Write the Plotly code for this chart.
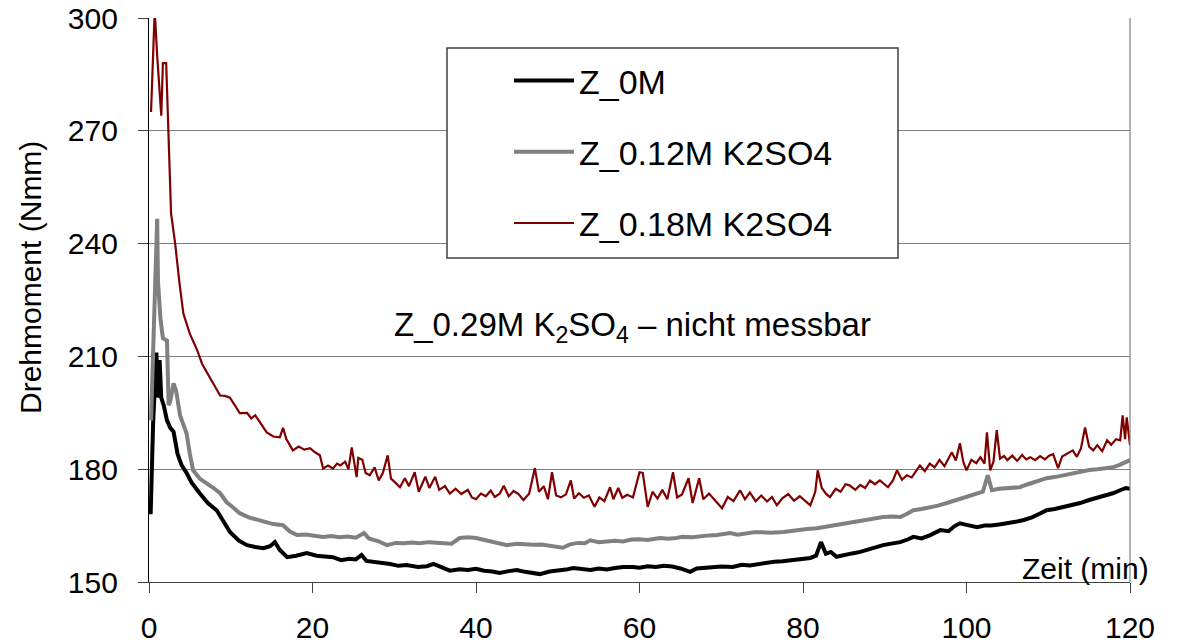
import plotly.graph_objects as go

# ---------------- data ----------------
t_0m = [0.2, 0.5, 0.9, 1.1, 1.3, 1.5, 1.8, 2.2, 2.6, 3.0, 3.5, 4.0, 4.6, 5.2, 6.2, 7.2, 8.3, 9.1, 9.9, 11,
        12, 13, 14, 14.8, 15.4, 16, 16.9, 18, 19.3, 20.5, 21.5, 22.5, 23.5, 24.5, 25.3, 26, 26.6, 27.5, 28.3, 29.5,
        30.5, 31.5, 32.9, 34, 34.8, 35.7, 36.8, 38, 39, 40, 41, 42, 42.9, 44, 45, 46, 47, 47.8, 49, 50,
        51, 51.9, 53, 54, 55, 56, 57, 58, 59.2, 60, 61, 62, 63, 64, 65, 66.2, 67, 68, 69, 70,
        71.4, 72.5, 73.5, 74.5, 75.6, 76.5, 77.5, 78.4, 79.5, 80.9, 81.6, 82.2, 82.8, 83.4, 84.1, 85, 86, 87, 88, 89,
        89.8, 90.8, 91.9, 92.8, 93.5, 94.5, 95.5, 96.8, 97.8, 98.5, 99.2, 100, 101.3, 102.2, 103, 104, 105, 106, 107, 108,
        109, 109.8, 110.8, 112, 113, 113.9, 115, 116, 117, 117.9, 118.8, 119.5, 120]
z_0m = [168, 192, 211, 199, 209, 199, 197, 193, 191, 190, 184, 181, 179, 176.5, 173.6, 171, 169, 166, 163.3, 161,
        159.8, 159.3, 159, 159.5, 160.6, 158.5, 156.6, 157, 157.7, 157, 156.8, 156.6, 155.8, 156.2, 156, 157.2, 155.6, 155.4, 155, 154.8,
        154.3, 154.5, 154, 154.2, 154.8, 154, 153, 153.4, 153.2, 153.5, 153, 152.8, 152.4, 152.9, 153.2, 152.7, 152.3, 152.1, 152.8, 153,
        153.3, 153.7, 153.4, 153.2, 153.6, 153.3, 153.7, 154, 154, 153.8, 154.2, 154, 154.3, 154.1, 153.6, 152.7, 153.6, 153.8, 154, 154.1,
        154, 154.6, 154.4, 154.8, 155, 155.4, 155.5, 155.8, 156, 156.4, 157, 160.6, 157.5, 158, 156.7, 157.2, 157.6, 158, 158.7, 159.2,
        159.8, 160.2, 160.6, 161.3, 162, 161.6, 162.4, 163.8, 163.5, 164.8, 165.6, 165.2, 164.6, 165, 165, 165.3, 165.6, 166, 166.5, 167.2,
        168.2, 169.1, 169.4, 170, 170.5, 171, 171.8, 172.4, 173, 173.6, 174.4, 175, 174.8]

t_012 = [0.25, 0.6, 1.0, 1.1, 1.4, 1.7, 2.2, 2.4, 2.6, 3.0, 3.3, 3.8, 4.2, 4.6, 5.0, 5.4, 6.2, 7.1, 7.9, 8.7,
         9.5, 10.3, 11.1, 12.2, 13.2, 14.2, 15.2, 16.4, 17.2, 18.1, 19.2, 20.2, 21.3, 22.3, 23.3, 24.3, 25.3, 26.3, 26.9, 28,
         29.1, 30.2, 31.2, 32.2, 33.1, 34.2, 35.2, 36.2, 37, 38, 39, 40, 41, 42, 43, 43.8, 45, 46, 47, 48,
         49, 50, 50.6, 51.5, 52.5, 53.3, 54, 55, 56, 57, 58, 59, 60, 61, 62.5, 63.5, 64.5, 65.3, 66.5, 67.5,
         68.5, 69.5, 71.1, 72, 73, 74, 75, 76, 77.6, 78.5, 79.5, 80.5, 81.7, 82.8, 84, 85, 85.8, 87, 88, 89,
         89.8, 91, 91.9, 92.8, 93.5, 94.5, 95.5, 96.5, 97.6, 98.5, 99.5, 100.5, 101.3, 102, 102.6, 103.1, 104, 105, 106.5, 107.5,
         108.5, 109.8, 110.8, 112, 113, 113.9, 115, 116, 117, 117.9, 118.8, 119.5, 120]
z_012 = [193, 215, 246.6, 230, 220, 214.8, 214.2, 197, 198, 202.8, 201, 194.3, 192, 189.5, 184, 179.7, 177.5, 176.3, 175, 173.6,
         171.2, 169.8, 168.3, 167.2, 166.5, 166, 165.4, 165.1, 163.5, 162.5, 162.6, 162.3, 162, 162.2, 161.9, 162.1, 161.8, 163, 161.6, 160.9,
         159.8, 160.4, 160.3, 160.5, 160.3, 160.6, 160.4, 160.1, 160.2, 161.7, 161.9, 161.7, 161.2, 160.5, 160.2, 159.8, 160.2, 160, 159.9, 160,
         159.7, 159.4, 159.1, 160, 160.4, 160.3, 161.1, 160.6, 160.9, 161, 160.8, 161.3, 161.4, 161.2, 161.7, 161.5, 161.7, 162, 161.9, 162.2,
         162.4, 162.5, 163, 162.6, 162.9, 163.2, 163.2, 163.1, 163.3, 163.6, 163.8, 164.1, 164.3, 164.7, 165.2, 165.3, 165.6, 166.1, 166.5, 167,
         167.3, 167.4, 167.3, 168.2, 169.1, 169.4, 169.8, 170.3, 171, 171.6, 172.3, 173, 173.6, 174, 178.4, 174.4, 174.8, 174.9, 175.2, 176,
         176.6, 177.6, 177.9, 178.5, 178.8, 179.2, 179.8, 180, 180.3, 180.5, 181.2, 182, 182.4]

t_018 = [0.25, 0.7, 1.0, 1.5, 1.7, 2.1, 2.7, 3.2, 3.7, 4.2, 5.0, 5.9, 6.5, 7.1, 7.8, 8.7, 9.3, 9.9, 10.5, 11.1,
         12, 12.5, 13, 13.7, 14.4, 15.2, 16, 16.4, 16.8, 17.6, 18.3, 19, 19.7, 20.3, 20.9, 21.3, 21.9, 22.5, 23, 23.4,
         24, 24.4, 24.8, 25.4, 25.6, 26.1, 26.5, 27, 27.6, 28.1, 28.6, 29.2, 29.6, 30.1, 30.7, 31.3, 31.8, 32.5, 33, 33.4,
         33.8, 34.3, 35, 35.5, 36.2, 36.8, 37.5, 38.2, 39, 39.5, 40, 40.6, 41.2, 41.8, 42.3, 42.9, 43.4, 44, 44.6, 45.2,
         45.8, 46.5, 47.2, 47.7, 48.3, 48.8, 49.3, 49.8, 50.4, 51, 51.6, 52, 52.6, 53.2, 53.8, 54.5, 55.1, 55.7, 56.4, 56.8,
         57.4, 57.9, 58.5, 59.2, 60, 60.4, 61, 61.6, 62.2, 62.8, 63.4, 64.1, 64.6, 65.2, 66, 66.5, 67.3, 67.8, 68.5, 69.2,
         70.1, 70.8, 71.5, 72.3, 72.9, 73.5, 74.2, 74.9, 75.6, 76.2, 76.8, 77.5, 78.2, 78.9, 79.6, 80.3, 80.9, 81.5, 81.8, 82.3,
         82.8, 83.3, 84, 84.6, 85.2, 85.7, 86.4, 87, 87.6, 88.2, 88.8, 89.4, 90, 90.4, 91, 91.5, 92.1, 92.7, 93.3, 93.8,
         94.3, 94.9, 95.5, 96.1, 96.7, 97.3, 97.8, 98.2, 98.7, 99.2, 99.6, 100, 100.6, 101.2, 101.7, 102.2, 102.5, 102.9, 103.3, 103.7,
         104.1, 104.6, 105, 105.6, 106.2, 106.8, 107.3, 107.8, 108.4, 109, 109.6, 110.1, 110.6, 111.2, 111.7, 112.3, 113, 113.5, 114, 114.5,
         115, 115.5, 116, 116.6, 117.2, 117.7, 118.3, 118.8, 119.1, 119.4, 119.6, 120]
z_018 = [275, 302, 290, 274, 288, 288, 248, 240, 230, 221.4, 216, 211.6, 208, 205.7, 203, 199.6, 199.5, 199, 197, 194.9,
         195, 193.5, 194.3, 192, 189.8, 188.7, 188.5, 191, 188, 185, 186, 185.2, 185.6, 184.5, 183.7, 180.2, 181, 180.2, 181.5, 181,
         182, 180, 185.8, 177.9, 183, 182.5, 179, 178.4, 180.5, 177, 179, 183.7, 177.5, 176.5, 175.2, 177.6, 175.5, 179.2, 174, 176,
         178, 175, 178, 174.5, 175.5, 173.5, 174.8, 173.4, 174.5, 172.5, 172, 173.5, 172.8, 174.3, 172.6, 173.5, 175.6, 172.8, 174.2, 173.4,
         171.8, 173.5, 180.3, 174, 175.5, 172, 179.2, 173, 172.5, 173.3, 177, 172.2, 173.6, 172.4, 173, 170, 172.5, 171.5, 175.2, 172,
         175, 172.4, 173.2, 172.5, 179.2, 179, 170, 174, 172.2, 174.5, 172, 179.2, 172.5, 173.3, 177.6, 171, 177.6, 172, 173.5, 171.8,
         169.6, 172.6, 171.5, 174.4, 172, 173.8, 171.5, 173, 171.4, 172.6, 170.4, 172.3, 173.4, 171.6, 172.8, 171.5, 170.4, 174, 179.7, 175,
         173.5, 172.6, 174.8, 174, 176, 175.7, 174.5, 175.8, 175, 177, 176, 177, 175.8, 175.2, 177, 179.7, 177.2, 178.4, 177.8, 179.5,
         181, 179.5, 181.5, 180.5, 182.5, 180.8, 183, 184.5, 182.3, 186.9, 182, 179.7, 182.5, 181.6, 183.2, 181.5, 189.8, 179.7, 182, 190.4,
         182.8, 183.5, 182.4, 183.6, 182.2, 183.8, 182.6, 183.2, 182.4, 183.5, 182.6, 183.6, 184, 180.3, 183.4, 184.2, 185, 183.3, 185.5, 191.1,
         186, 185, 186.4, 184.8, 187.7, 186.5, 188, 187.7, 194.3, 188, 193.8, 186.4]

series_names = ["Z_0M", "Z_0.12M K2SO4", "Z_0.18M K2SO4"]
x_ticks = [0, 20, 40, 60, 80, 100, 120]
y_ticks = [150, 180, 210, 240, 270, 300]

FONT = "Liberation Sans, Arial, sans-serif"

fig = go.Figure()
fig.add_trace(go.Scatter(x=t_0m, y=z_0m, mode="lines", name=series_names[0], legendgroup="a",
                         line=dict(color="#000000", width=4)))
fig.add_trace(go.Scatter(x=t_012, y=z_012, mode="lines", name=series_names[1], legendgroup="b",
                         line=dict(color="#808080", width=4)))
fig.add_trace(go.Scatter(x=t_018, y=z_018, mode="lines", name=series_names[2], legendgroup="c",
                         line=dict(color="#800000", width=2.2)))

# pixel geometry converted to paper coords: plot area 149..1130 x 18..582
def px_x(p):
    return (p - 149) / 981.0

def px_y(p):
    return (582 - p) / 564.0

fig.update_layout(
    width=1178, height=643,
    margin=dict(l=149, r=48, t=18, b=61, autoexpand=False),
    paper_bgcolor="white", plot_bgcolor="white",
    font=dict(family=FONT, color="black", size=30),
    showlegend=True,
    legend=dict(x=px_x(509), y=px_y(52), xanchor="left", yanchor="top",
                bgcolor="rgba(0,0,0,0)", borderwidth=0,
                font=dict(family=FONT, size=34, color="black"),
                tracegroupgap=24, itemwidth=60),
    xaxis=dict(range=[0, 120], tickvals=x_ticks, ticks="outside", ticklen=10, tickcolor="#404040",
               showgrid=False, showline=True, linecolor="#404040", linewidth=1.2, zeroline=False,
               tickfont=dict(size=30), ticklabelstandoff=9, automargin=False),
    yaxis=dict(range=[150, 300], tickvals=y_ticks, ticks="outside", ticklen=10, tickcolor="#404040",
               showgrid=True, gridcolor="#808080", gridwidth=1.2, showline=True, linecolor="black",
               linewidth=1.2, zeroline=False, tickfont=dict(size=30), ticklabelstandoff=14,
               automargin=False),
    shapes=[
        dict(type="line", xref="paper", yref="paper", x0=1, x1=1, y0=0, y1=1,
             line=dict(color="#808080", width=1.2)),
        dict(type="rect", xref="paper", yref="paper", x0=px_x(447), x1=px_x(898),
             y0=px_y(258), y1=px_y(48), fillcolor="white", layer="above",
             line=dict(color="#404040", width=1.5)),
    ],
    annotations=[
        dict(text="Drehmoment (Nmm)", xref="paper", yref="paper", x=px_x(30), y=px_y(278),
             textangle=-90, showarrow=False, xanchor="center", yanchor="middle",
             font=dict(size=30)),
        dict(text="Zeit (min)", xref="paper", yref="paper", x=px_x(1085), y=px_y(568),
             showarrow=False, xanchor="center", yanchor="middle", font=dict(size=30)),
        dict(text="Z_0.29M K<sub>2</sub>SO<sub>4</sub> – nicht messbar", xref="paper", yref="paper",
             x=px_x(632), y=px_y(327), showarrow=False, xanchor="center", yanchor="middle",
             font=dict(size=33)),
    ],
)

fig.write_html("out.html")
